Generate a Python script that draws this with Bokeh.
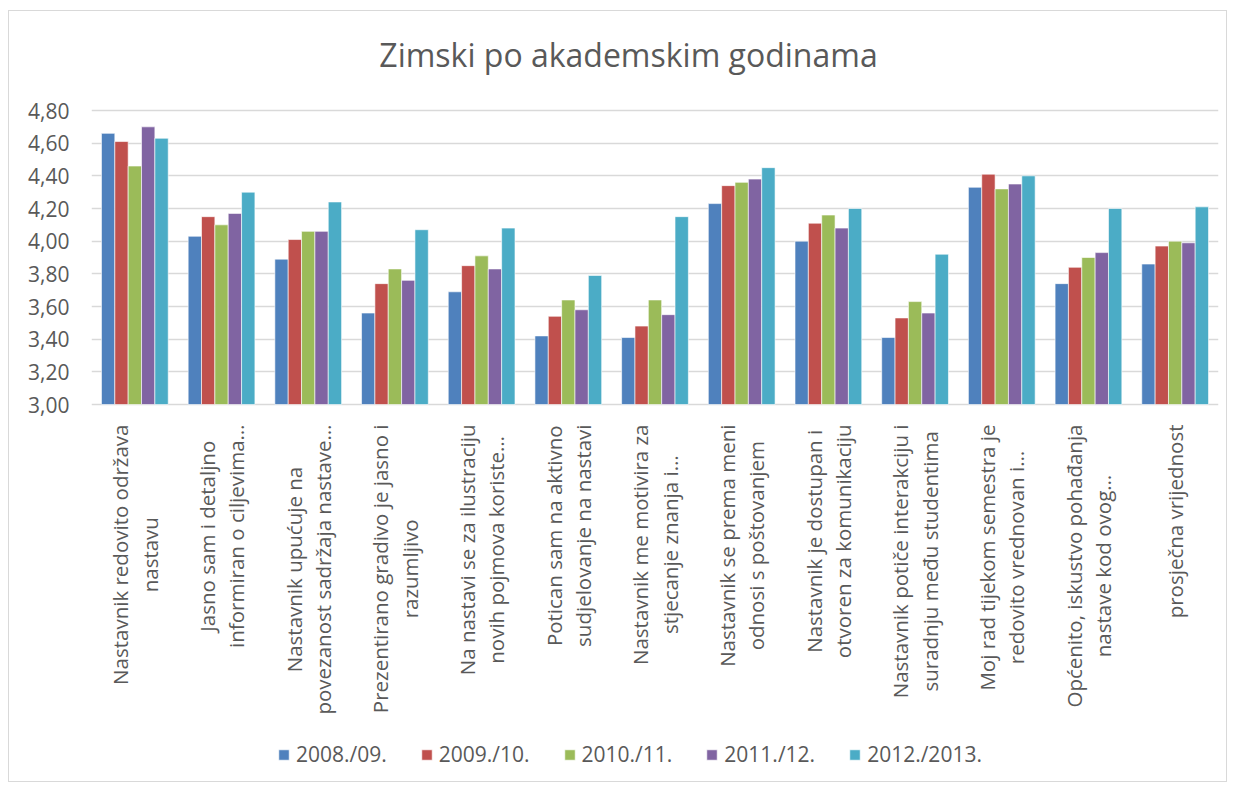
import math
from bokeh.plotting import figure
from bokeh.models import (FactorRange, Range1d, FixedTicker, Legend, LegendItem,
                          ColumnDataSource, Label)
from bokeh.transform import dodge
from bokeh.core.properties import value
from bokeh.embed import file_html
from bokeh.resources import INLINE

# ---------------- data ----------------
title_text = "Zimski po akademskim godinama"
categories = [
    "Nastavnik redovito održava\nnastavu",
    "Jasno sam i detaljno\ninformiran o ciljevima…",
    "Nastavnik upućuje na\npovezanost sadržaja nastave…",
    "Prezentirano gradivo je jasno i\nrazumljivo",
    "Na nastavi se za ilustraciju\nnovih pojmova koriste…",
    "Potican sam na aktivno\nsudjelovanje na nastavi",
    "Nastavnik me motivira za\nstjecanje znanja i…",
    "Nastavnik se prema meni\nodnosi s poštovanjem",
    "Nastavnik je dostupan i\notvoren za komunikaciju",
    "Nastavnik potiče interakciju i\nsuradnju među studentima",
    "Moj rad tijekom semestra je\nredovito vrednovan i…",
    "Općenito, iskustvo pohađanja\nnastave kod ovog…",
    "prosječna vrijednost",
]
series_names = ["2008./09.", "2009./10.", "2010./11.", "2011./12.", "2012./2013."]
v2008 = [4.66, 4.03, 3.89, 3.56, 3.69, 3.42, 3.41, 4.23, 4.00, 3.41, 4.33, 3.74, 3.86]
v2009 = [4.61, 4.15, 4.01, 3.74, 3.85, 3.54, 3.48, 4.34, 4.11, 3.53, 4.41, 3.84, 3.97]
v2010 = [4.46, 4.10, 4.06, 3.83, 3.91, 3.64, 3.64, 4.36, 4.16, 3.63, 4.32, 3.90, 4.00]
v2011 = [4.70, 4.17, 4.06, 3.76, 3.83, 3.58, 3.55, 4.38, 4.08, 3.56, 4.35, 3.93, 3.99]
v2012 = [4.63, 4.30, 4.24, 4.07, 4.08, 3.79, 4.15, 4.45, 4.20, 3.92, 4.40, 4.20, 4.21]
y_ticks = [3.0, 3.2, 3.4, 3.6, 3.8, 4.0, 4.2, 4.4, 4.6, 4.8]
y_tick_labels = ["3,00", "3,20", "3,40", "3,60", "3,80", "4,00", "4,20", "4,40", "4,60", "4,80"]
y_min, y_max = 3.0, 4.8

# ---------------- style / layout ----------------
colors = ["#4F81BD", "#C0504D", "#9BBB59", "#8064A2", "#4BACC6"]
TEXT = "#595959"
GRID = "#D9D9D9"
FONT = "Open Sans"

OX, OY = 9, 11                      # canvas origin on the page (after margin + border)
W, H = 1219, 772
frame_left = 91 - OX
frame_right = (OX + W) - 1218
top_px = 110 - OY                     # canvas y of value 4.80
frame_bottom_border = 4
axis_min_px = 404 - OY                # canvas y of value 3.00
frame_bottom_px = H - frame_bottom_border
px_per_unit = (axis_min_px - top_px) / (y_max - y_min)
range_start = y_min - (frame_bottom_px - axis_min_px) / px_per_unit
range_end = y_max + top_px / px_per_unit   # frame reaches the canvas top

data = dict(cat=categories, s0=v2008, s1=v2009, s2=v2010, s3=v2011, s4=v2012)
src = ColumnDataSource(data)

p = figure(width=W, height=H, x_range=FactorRange(factors=categories),
           y_range=Range1d(range_start, range_end),
           output_backend="svg", toolbar_location=None,
           min_border_left=frame_left, min_border_right=frame_right,
           min_border_top=0, min_border_bottom=frame_bottom_border)
p.styles = {"border": "1px solid #D9D9D9", "margin-left": "8px", "margin-top": "10px"}
p.outline_line_color = None
p.background_fill_color = "white"
p.border_fill_color = "white"

# title (screen units measured from the frame's bottom-left corner)
title_baseline_canvas = 54 - OY
p.add_layout(Label(x=628 - 91, y=frame_bottom_px - title_baseline_canvas,
                   x_units="screen", y_units="screen", text=title_text,
                   text_align="center", text_baseline="alphabetic",
                   text_font=FONT, text_font_size="32px", text_color=TEXT))

# bars
bar_w = 0.154
offsets = [-2 * bar_w, -bar_w, 0.0, bar_w, 2 * bar_w]
items = []
for i, (name, col) in enumerate(zip(series_names, colors)):
    r = p.vbar(x=dodge("cat", offsets[i], range=p.x_range), top=f"s{i}", bottom=y_min,
               width=bar_w, source=src, fill_color=col, line_color="white", line_width=0.6)
    items.append(LegendItem(label=name, renderers=[r]))

# axes / grid
p.xaxis.visible = False
p.xgrid.visible = False
p.yaxis.bounds = (y_min, y_max)
p.yaxis.ticker = FixedTicker(ticks=y_ticks)
p.yaxis.major_label_overrides = {t: l for t, l in zip(y_ticks, y_tick_labels)}
p.yaxis.axis_line_color = None
p.yaxis.major_tick_line_color = None
p.yaxis.minor_tick_line_color = None
p.yaxis.major_tick_in = 0
p.yaxis.major_tick_out = 0
p.yaxis.major_label_standoff = 22
p.yaxis.major_label_text_font = FONT
p.yaxis.major_label_text_font_size = "21px"
p.yaxis.major_label_text_color = TEXT
p.ygrid.ticker = FixedTicker(ticks=y_ticks)
p.ygrid.bounds = (y_min, y_max)
p.ygrid.grid_line_color = GRID
p.ygrid.grid_line_width = 1.3

# category labels (rotated, under the axis)
p.text(x="cat", y=y_min, text="cat", source=src, angle=math.pi / 2,
       anchor="center_right", text_align="center", text_baseline="middle",
       y_offset=20, text_font=value(FONT), text_font_size="20.5px",
       text_color=TEXT, text_line_height=1.05)

# legend
legend = Legend(items=items, orientation="horizontal",
                location=(281 - 95, 11),
                padding=0, margin=0, spacing=33, label_standoff=6,
                glyph_width=13, glyph_height=13,
                border_line_color=None, background_fill_alpha=0,
                label_text_font=FONT, label_text_font_size="21px",
                label_text_color=TEXT)
p.add_layout(legend)

open("out.html", "w").write(file_html(p, INLINE))
